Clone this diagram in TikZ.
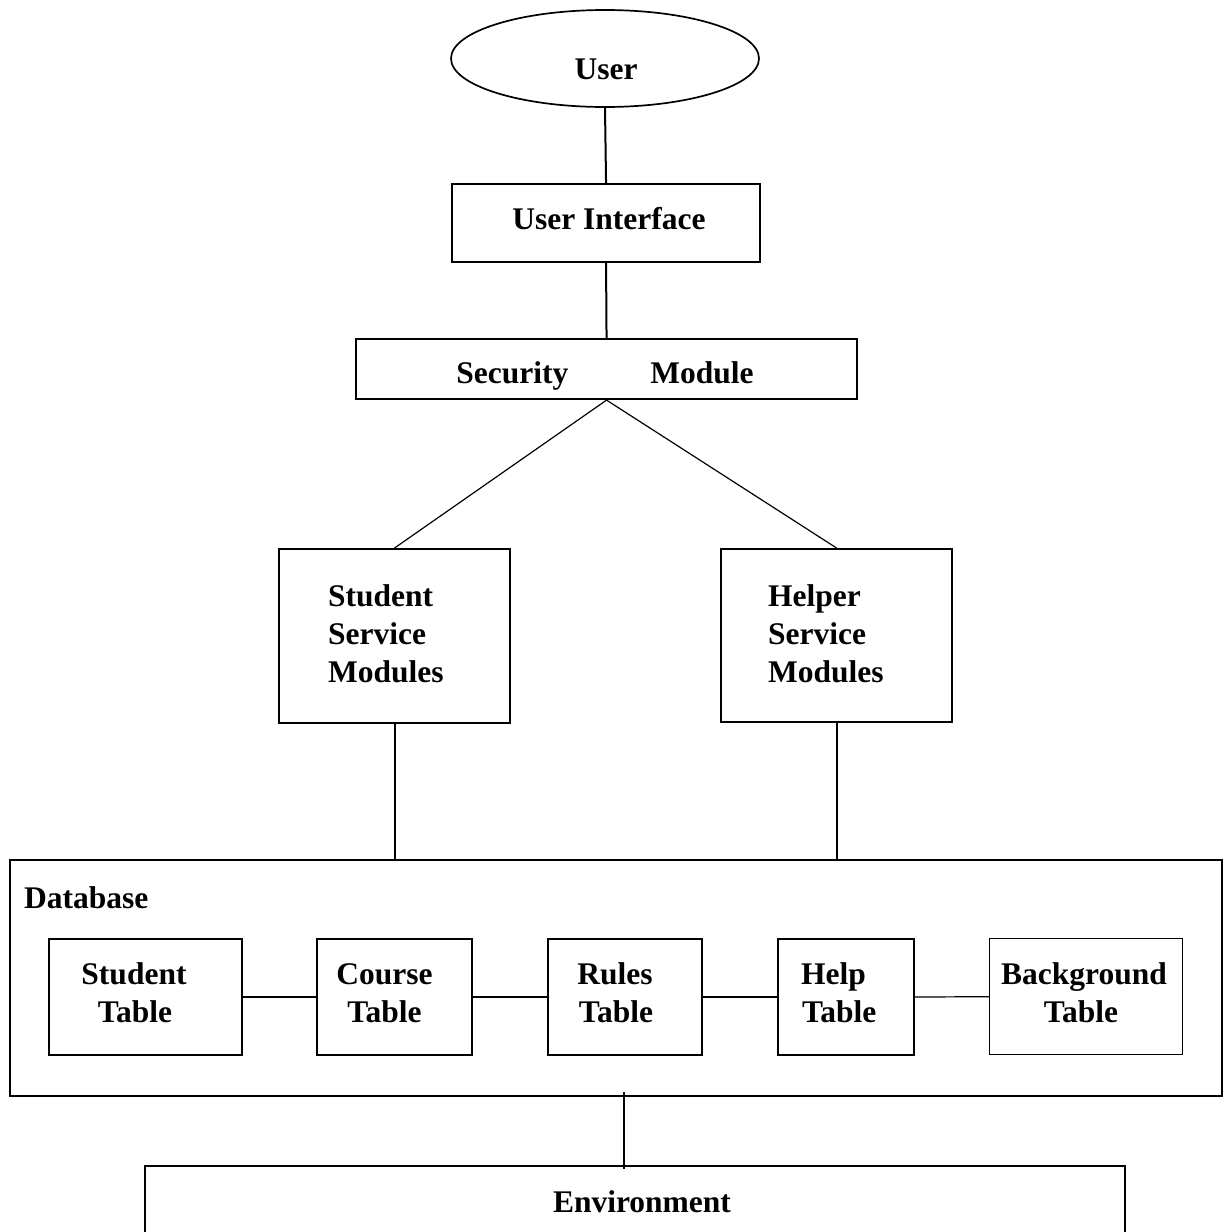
\documentclass[tikz,border=0pt]{standalone}
\usepackage{fontspec}
\setmainfont{Liberation Serif}
\usetikzlibrary{shapes.geometric}
\begin{document}
\begin{tikzpicture}[x=1pt,y=-1pt,
  box/.style={draw, line width=2.1pt, rectangle, inner sep=0pt, anchor=north west},
  thinbox/.style={box, line width=1.3pt},
  lbl/.style={inner sep=0pt, font=\fontsize{31.5}{38}\selectfont\bfseries, anchor=base},
  lblw/.style={lbl, anchor=base west},
  conn/.style={line width=2pt},
  thinconn/.style={line width=1.2pt}]
\clip (0,0) rectangle (1223,1232);
\fill[white] (0,0) rectangle (1223,1232);

% User
\node[draw, ellipse, line width=1.7pt, minimum width=308pt, minimum height=97pt, inner sep=0pt] (user) at (605,58.5) {};
\node[lbl] (userT) at (606,79) {User};

% User Interface
\node[box, minimum width=308pt, minimum height=78pt] (ui) at (451,183) {};
\node[lbl] (uiT) at (609,229) {User Interface};

% Security Module
\node[box, minimum width=501pt, minimum height=60pt] (sec) at (355,338) {};
\node[lbl] (secT) at (605,383) {Security\hspace{82pt}Module};

% Student Service Modules
\node[box, minimum width=231pt, minimum height=174pt] (ssm) at (278,548) {};
\node[lblw] (ssm1) at (328,606) {Student};
\node[lblw] (ssm2) at (328,644) {Service};
\node[lblw] (ssm3) at (328,682) {Modules};

% Helper Service Modules
\node[box, minimum width=231pt, minimum height=173pt] (hsm) at (720,548) {};
\node[lblw] (hsm1) at (768,606) {Helper};
\node[lblw] (hsm2) at (768,644) {Service};
\node[lblw] (hsm3) at (768,682) {Modules};

% Database
\node[box, minimum width=1212pt, minimum height=236pt] (db) at (9,859) {};
\node[lblw] (dbT) at (24,908) {Database};

% Tables
\node[box, minimum width=193pt, minimum height=116pt] (st) at (48,938) {};
\node[lbl] (st1) at (134,984) {Student};
\node[lbl] (st2) at (135,1022) {Table};

\node[box, minimum width=155pt, minimum height=116pt] (ct) at (316,938) {};
\node[lbl] (ct1) at (384.5,984) {Course};
\node[lbl] (ct2) at (384.5,1022) {Table};

\node[box, minimum width=154pt, minimum height=116pt] (rt) at (547,938) {};
\node[lbl] (rt1) at (615,984) {Rules};
\node[lbl] (rt2) at (616,1022) {Table};

\node[box, minimum width=136pt, minimum height=116pt] (ht) at (777,938) {};
\node[lblw] (ht1) at (801,984) {Help};
\node[lblw] (ht2) at (802,1022) {Table};

\node[thinbox, minimum width=193pt, minimum height=116pt] (bt) at (989,938) {};
\node[lbl] (bt1) at (1084,984) {Background};
\node[lbl] (bt2) at (1081,1022) {Table};

% Environment
\node[box, minimum width=980pt, minimum height=100pt] (env) at (144,1165) {};
\node[lbl] (envT) at (642,1212) {Environment};

% Connectors
\draw[conn] (user.south) -- (ui.north);
\draw[conn] (ui.south) -- (sec.north);
\draw[thinconn] (sec.south) -- (ssm.north);
\draw[thinconn] (sec.south) -- (hsm.north);
\draw[conn] (ssm.south) -- (ssm.south |- db.north);
\draw[conn] (hsm.south) -- (hsm.south |- db.north);
\draw[conn] (st.east) -- (ct.west);
\draw[conn] (ct.east) -- (rt.west);
\draw[conn] (rt.east) -- (ht.west);
\draw[thinconn] (ht.east) -- (bt.west);
\coordinate (dbout) at (624,1092);
\coordinate (envin) at (624,1169);
\draw[conn] (dbout) -- (envin);
\end{tikzpicture}
\end{document}
